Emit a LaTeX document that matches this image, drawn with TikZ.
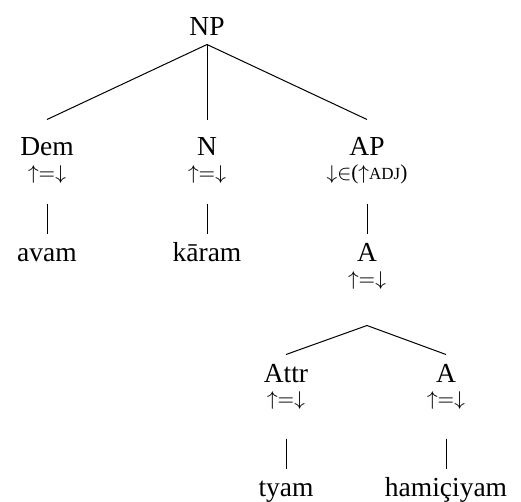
\documentclass[tikz,border=0pt]{standalone}
\usepackage{fontspec}
\setmainfont{Liberation Serif}
\usetikzlibrary{positioning}

\tikzset{
  cat/.style={inner sep=0pt, anchor=base, font=\fontsize{11}{13}\selectfont},
  fstr/.style={inner sep=0pt, anchor=base, text height=5pt, font=\fontsize{8.5}{10}\selectfont},
}
\newcommand{\updown}{$\uparrow=\downarrow$}
\newcommand{\adjfeat}{{\fontsize{6.8}{8}\selectfont ADJ}}

\begin{document}
\begin{tikzpicture}[-, x=0.4pt, y=-0.4pt]
		\useasboundingbox (0,0) rectangle (521,501);
		\node[cat, text depth=3.6pt] (np) at (207,35) {NP};
		
		\node[cat, text height=14pt] (dem) at (47,155) {Dem};
		\node[fstr, text depth=9.6pt] (demf) at (47,179) {\updown};
		\node[cat, text height=14pt] (n) at (207,155) {N};
		\node[fstr, text depth=9.6pt] (nf) at (207,179) {\updown};
		\node[cat, text height=14pt] (ap) at (367,155) {AP};
		\node[fstr, text depth=9.6pt] (apf) at (367,179) {$\downarrow$$\in$($\uparrow$\adjfeat)};
		
		\node[cat, text height=10.8pt] (avam) at (47,261) {avam};
		\node[cat, text height=10.8pt] (karam) at (207,261) {kāram};
		\node[cat, text height=10.8pt] (a) at (367,261) {A};
		\node[fstr, text depth=16pt] (af) at (367,285) {\updown};
		
		\node[cat, text height=10.8pt] (attr) at (286,382) {Attr};
		\node[fstr, text depth=13.2pt] (attrf) at (286,405) {\updown};
		\node[cat, text height=10.8pt] (ahead) at (446,382) {A};
		\node[fstr, text depth=13.2pt] (aheadf) at (446,405) {\updown};
		
		\node[cat, text height=10.8pt] (tyam) at (286,496) {tyam};
		\node[cat, text height=10.8pt] (hamiciyam) at (446,496) {hamiçiyam};
		
		\draw (np.south) -- (dem.north);
		\draw (np.south) -- (n.north);
		\draw (np.south) -- (ap.north);
		\draw (demf.south) -- (avam.north);
		\draw (nf.south) -- (karam.north);
		\draw (apf.south) -- (a.north);
		\draw (af.south) -- (attr.north);
		\draw (af.south) -- (ahead.north);
		\draw (attrf.south) -- (tyam.north);
		\draw (aheadf.south) -- (hamiciyam.north);
		
	\end{tikzpicture}
\end{document}
